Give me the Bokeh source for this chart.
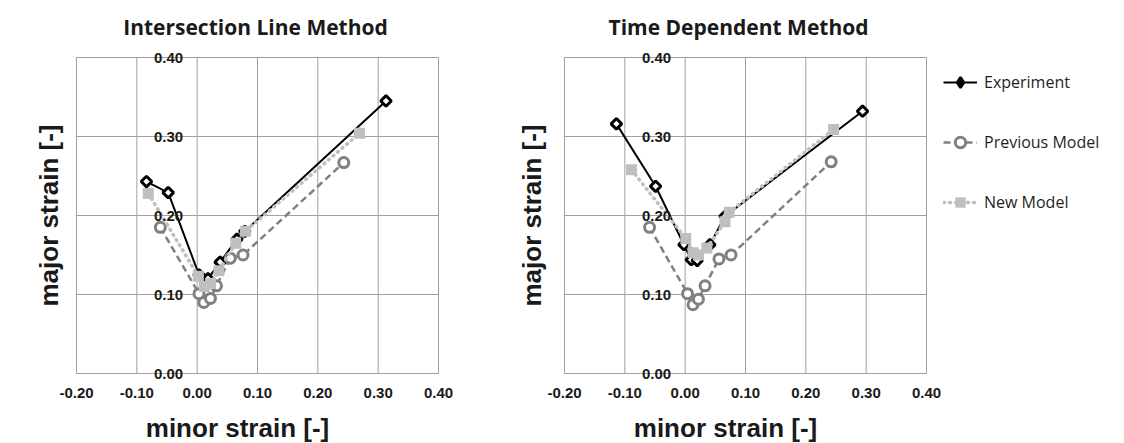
import numpy as np
from bokeh.plotting import figure
from bokeh.models import (Range1d, FixedTicker, LinearAxis, Legend, Label,
                          LegendItem, NumeralTickFormatter)
from bokeh.layouts import row
from bokeh.embed import file_html
from bokeh.resources import INLINE

# ---------------- data ----------------
X_TICKS = [-0.2, -0.1, 0.0, 0.1, 0.2, 0.3, 0.4]
Y_TICKS = [0.0, 0.1, 0.2, 0.3, 0.4]
AXIS_CROSS = 0.0            # the two axes cross at 0
SERIES = ["Experiment", "Previous Model", "New Model"]
TITLES = ["Intersection Line Method", "Time Dependent Method"]
X_LABEL = "minor strain [-]"
Y_LABEL = "major strain [-]"

# Intersection Line Method
ilm_exp_x = [-0.084, -0.048, 0.003, 0.018, 0.038, 0.066, 0.079, 0.313]
ilm_exp_y = [0.243, 0.229, 0.125, 0.120, 0.141, 0.170, 0.180, 0.345]
ilm_prev_x = [-0.061, 0.003, 0.011, 0.022, 0.032, 0.055, 0.076, 0.243]
ilm_prev_y = [0.185, 0.101, 0.090, 0.095, 0.111, 0.146, 0.150, 0.267]
ilm_new_x = [-0.081, 0.002, 0.012, 0.022, 0.036, 0.064, 0.080, 0.269]
ilm_new_y = [0.228, 0.123, 0.110, 0.114, 0.130, 0.165, 0.180, 0.304]

# Time Dependent Method
tdm_exp_x = [-0.114, -0.049, -0.002, 0.010, 0.020, 0.041, 0.066, 0.294]
tdm_exp_y = [0.316, 0.237, 0.163, 0.144, 0.143, 0.163, 0.199, 0.332]
tdm_prev_x = [-0.059, 0.004, 0.013, 0.022, 0.033, 0.056, 0.076, 0.242]
tdm_prev_y = [0.185, 0.101, 0.087, 0.094, 0.111, 0.145, 0.150, 0.268]
tdm_new_x = [-0.089, 0.001, 0.013, 0.022, 0.036, 0.066, 0.073, 0.246]
tdm_new_y = [0.258, 0.171, 0.153, 0.150, 0.159, 0.192, 0.204, 0.309]

# ---------------- layout / style ----------------
PLOT_W, PLOT_H = 362, 316          # grid area in pixels
PAD_TOP, PAD_BOTTOM = 57, 70
GRID = "#A0A0A0"
TXT = "#1a1a1a"
TICK_FONT = "Liberation Sans"
TITLE_FONT = "Open Sans"


def make(title, ex, ey, px, py, nx, ny, pad_left, pad_right,
         ylab_dx, title_dx, legend_xy=None):
    xmin, xmax = X_TICKS[0], X_TICKS[-1]
    ymin, ymax = Y_TICKS[0], Y_TICKS[-1]
    kx = PLOT_W / (xmax - xmin)
    ky = PLOT_H / (ymax - ymin)
    p = figure(frame_width=PLOT_W + pad_left + pad_right,
               frame_height=PLOT_H + PAD_TOP + PAD_BOTTOM,
               x_range=Range1d(xmin - pad_left / kx, xmax + pad_right / kx),
               y_range=Range1d(ymin - PAD_BOTTOM / ky, ymax + PAD_TOP / ky),
               output_backend="svg", toolbar_location=None, tools="",
               x_axis_location=None, y_axis_location=None, title=None,
               min_border_left=0, min_border_right=0,
               min_border_top=0, min_border_bottom=0,
               background_fill_color="white", border_fill_color="white")
    p.outline_line_color = None
    p.grid.grid_line_color = None
    p.grid.visible = False

    # grid lines over the plot area (outer ones form its border)
    p.segment(x0=X_TICKS, y0=[ymin] * len(X_TICKS), x1=X_TICKS, y1=[ymax] * len(X_TICKS),
              line_color=GRID, line_width=1)
    p.segment(x0=[xmin] * len(Y_TICKS), y0=Y_TICKS, x1=[xmax] * len(Y_TICKS), y1=Y_TICKS,
              line_color=GRID, line_width=1)

    common = dict(major_tick_out=0, major_tick_in=0, minor_tick_out=0, minor_tick_in=0,
                  axis_line_color=None, major_label_standoff=14,
                  major_label_text_font=TICK_FONT, major_label_text_font_size="15px",
                  major_label_text_font_style="bold", major_label_text_color=TXT,
                  formatter=NumeralTickFormatter(format="0.00"))
    # horizontal axis at major strain = 0
    p.add_layout(LinearAxis(fixed_location=AXIS_CROSS, ticker=FixedTicker(ticks=X_TICKS),
                            **common), "below")
    # vertical axis crossing at minor strain = 0
    p.add_layout(LinearAxis(fixed_location=AXIS_CROSS, ticker=FixedTicker(ticks=Y_TICKS),
                            **common), "left")

    # titles
    p.add_layout(Label(x=(xmin + xmax) / 2, y=ymax, x_offset=title_dx, y_offset=31,
                       text=title, text_align="center", text_baseline="middle",
                       text_font=TITLE_FONT, text_font_size="21px",
                       text_font_style="bold", text_color=TXT))
    p.add_layout(Label(x=(xmin + xmax) / 2, y=ymin, x_offset=-20, y_offset=-54,
                       text=X_LABEL, text_align="center", text_baseline="middle",
                       text_font=TICK_FONT, text_font_size="26px",
                       text_font_style="bold", text_color=TXT))
    p.add_layout(Label(x=xmin, y=(ymin + ymax) / 2, x_offset=ylab_dx, y_offset=0,
                       angle=np.pi / 2, text=Y_LABEL, text_align="center",
                       text_baseline="middle", text_font=TICK_FONT,
                       text_font_size="26px", text_font_style="bold", text_color=TXT))

    # series
    l1 = p.line(ex, ey, line_color="black", line_width=2)
    d1 = p.scatter(ex, ey, marker="diamond", size=9, line_color="black",
                   line_width=2.5, fill_color="black")
    m1 = p.scatter(ex, ey, marker="square", angle=np.pi / 4, size=7.5,
                   line_color="black", line_width=3, fill_color="white")
    l2 = p.line(px, py, line_color="#808080", line_width=2.5, line_dash="7 4")
    m2 = p.scatter(px, py, marker="circle", size=10, line_color="#808080",
                   line_width=3, fill_color="white")
    l3 = p.line(nx, ny, line_color="#BFBFBF", line_width=3.5, line_dash="1 5",
                line_cap="round")
    m3 = p.scatter(nx, ny, marker="square", size=11, line_color=None,
                   fill_color="#BFBFBF")

    if legend_xy is not None:
        legend = Legend(items=[LegendItem(label=SERIES[0], renderers=[l1, d1]),
                               LegendItem(label=SERIES[1], renderers=[l2, m2]),
                               LegendItem(label=SERIES[2], renderers=[l3, m3])],
                        location=legend_xy, margin=0, padding=0, spacing=34,
                        glyph_width=34, glyph_height=26, label_standoff=7,
                        label_text_font=TITLE_FONT, label_text_font_size="16px",
                        label_text_color="#1f1f1f",
                        border_line_color=None, background_fill_alpha=0)
        p.add_layout(legend)
    return p


p1 = make(TITLES[0], ilm_exp_x, ilm_exp_y, ilm_prev_x, ilm_prev_y, ilm_new_x, ilm_new_y,
          76, 42, -28, -2)
p2 = make(TITLES[1], tdm_exp_x, tdm_exp_y, tdm_prev_x, tdm_prev_y, tdm_new_x, tdm_new_y,
          84, 189, -33, -7, legend_xy=(463, 228))

layout = row(p1, p2)
open("out.html", "w").write(file_html(layout, INLINE))
